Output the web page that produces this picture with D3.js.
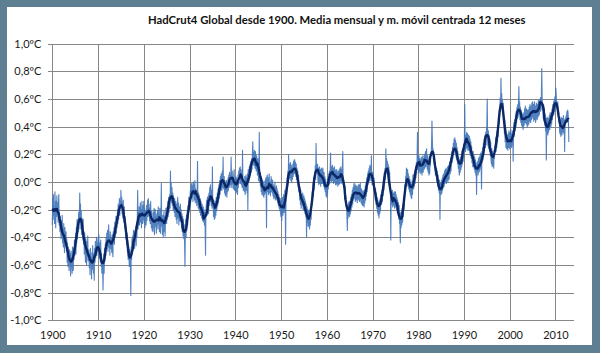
<!DOCTYPE html>
<html><head><meta charset="utf-8">
<script src="https://cdn.jsdelivr.net/npm/d3@7"></script>
<style>html,body{margin:0;padding:0;background:#fff}svg{display:block}</style>
</head><body><svg id="c" width="600" height="353"></svg>
<script>
const chartTitle = "HadCrut4 Global desde 1900. Media mensual y m. móvil centrada 12 meses";
const firstYear = 1900;
const xTickYears = [1900,1910,1920,1930,1940,1950,1960,1970,1980,1990,2000,2010];
const yTickValues = [-1.0,-0.8,-0.6,-0.4,-0.2,0.0,0.2,0.4,0.6,0.8,1.0];
// Monthly anomaly (ºC), one row per year starting 1900, Jan..Dec
const monthly = [
[-.31,-.12,-.24,-.09,-.27,-.18,-.30,-.07,-.21,-.33,-.14,-.25],
[-.10,-.23,-.15,-.29,-.18,-.09,-.31,-.22,-.36,-.25,-.34,-.41],
[-.28,-.39,-.24,-.44,-.35,-.47,-.30,-.42,-.51,-.33,-.45,-.38],
[-.36,-.50,-.41,-.58,-.44,-.61,-.47,-.55,-.64,-.49,-.60,-.52],
[-.68,-.50,-.62,-.55,-.66,-.47,-.59,-.64,-.48,-.56,-.42,-.53],
[-.49,-.37,-.52,-.33,-.44,-.27,-.41,-.30,-.36,-.22,-.34,-.25],
[-.08,-.29,-.16,-.34,-.21,-.38,-.26,-.31,-.42,-.27,-.45,-.36],
[-.52,-.37,-.49,-.58,-.41,-.46,-.60,-.43,-.54,-.39,-.57,-.50],
[-.49,-.62,-.53,-.67,-.48,-.59,-.55,-.70,-.51,-.63,-.46,-.60],
[-.66,-.52,-.71,-.48,-.58,-.43,-.55,-.47,-.40,-.53,-.45,-.50],
[-.41,-.50,-.38,-.55,-.44,-.49,-.58,-.42,-.61,-.52,-.66,-.57],
[-.59,-.78,-.63,-.52,-.66,-.48,-.57,-.45,-.53,-.40,-.49,-.37],
[-.46,-.35,-.50,-.39,-.31,-.47,-.42,-.53,-.36,-.48,-.40,-.45],
[-.51,-.38,-.47,-.54,-.36,-.43,-.33,-.45,-.29,-.40,-.34,-.25],
[-.37,-.25,-.33,-.20,-.30,-.16,-.27,-.21,-.12,-.24,-.14,-.19],
[-.06,-.17,-.11,-.23,-.15,-.26,-.13,-.21,-.29,-.18,-.33,-.25],
[-.29,-.41,-.34,-.45,-.37,-.50,-.42,-.56,-.46,-.52,-.61,-.49],
[-.55,-.63,-.82,-.47,-.56,-.41,-.52,-.39,-.46,-.35,-.44,-.40],
[-.48,-.36,-.43,-.32,-.46,-.29,-.40,-.25,-.06,-.34,-.22,-.31],
[-.18,-.31,-.22,-.15,-.29,-.20,-.33,-.14,-.26,-.30,-.17,-.27],
[-.14,-.29,-.19,-.33,-.21,-.26,-.31,-.17,-.28,-.20,-.13,-.25],
[-.12,-.24,-.16,-.28,-.19,-.30,-.14,-.25,-.33,-.21,-.35,-.27],
[-.36,-.22,-.33,-.19,-.38,-.27,-.20,-.32,-.25,-.37,-.23,-.31],
[-.21,-.34,-.18,-.30,-.24,-.36,-.19,-.29,-.37,-.26,-.01,-.32],
[-.27,-.38,-.24,-.40,-.29,-.21,-.36,-.25,-.39,-.27,-.19,-.30],
[-.30,-.18,-.27,-.14,-.25,-.11,-.22,-.16,-.09,-.19,.08,-.13],
[-.01,-.15,-.04,-.17,-.08,-.20,-.10,-.16,-.22,-.12,-.25,-.19],
[-.14,-.27,-.16,-.30,-.19,-.11,-.26,-.15,-.31,-.18,-.28,-.21],
[-.16,-.29,-.20,-.33,-.23,-.36,-.25,-.39,-.27,-.41,-.31,-.44],
[-.61,-.37,-.27,-.40,-.24,-.35,-.21,-.31,-.17,-.26,-.11,-.20],
[-.13,-.19,-.06,-.15,-.02,-.12,-.01,-.11,-.03,-.14,.00,-.09],
[-.02,-.13,.01,-.15,-.05,-.10,-.12,-.17,-.06,.15,-.14,-.19],
[-.08,-.20,-.10,-.22,-.12,-.24,-.14,-.19,-.26,-.16,-.28,-.21],
[-.18,-.29,-.20,-.31,-.22,-.34,-.53,-.21,-.17,-.13,-.24,-.11],
[-.21,-.10,-.23,-.08,-.17,-.04,-.14,-.02,-.12,-.17,-.06,-.19],
[.11,-.18,-.14,-.25,-.13,-.27,-.16,-.26,-.14,-.24,-.11,-.21],
[-.19,-.08,-.17,-.05,-.15,-.02,-.12,.01,-.09,.04,-.06,.06],
[.05,-.06,.08,-.04,.18,.00,-.05,.04,-.08,.01,-.10,-.02],
[-.09,.01,-.11,-.01,-.07,.03,-.06,.05,-.03,.07,-.04,.05],
[-.02,.18,.06,-.04,.08,-.01,.03,-.05,.05,.09,-.06,-.02],
[-.06,.04,-.08,.03,-.07,.01,-.09,.05,-.04,.08,-.01,.10],
[.07,.11,-.01,.09,-.02,.06,-.04,.23,.02,-.06,-.01,-.05],
[-.07,.04,-.09,.01,.05,-.06,.03,-.08,.06,-.20,.09,.02],
[.00,.11,.03,.13,.05,.15,.07,.17,.09,.20,.29,.13],
[.21,.12,.23,.14,.10,.22,.13,.08,.19,.15,.05,.17],
[.11,.01,.08,.36,.00,.07,-.03,.04,-.07,.02,-.09,-.01],
[.01,-.10,.00,-.11,-.02,-.09,.01,-.08,.03,-.06,-.33,.04],
[.05,-.07,.03,-.09,.01,.06,-.08,.00,-.10,-.01,.04,-.07],
[.02,-.08,.01,-.10,-.02,-.12,-.03,-.11,.00,-.13,-.04,-.12],
[-.03,-.13,-.05,-.15,-.07,-.17,-.09,-.19,-.11,-.21,-.12,-.23],
[-.25,-.13,-.28,-.16,-.11,-.24,-.14,-.09,-.22,-.18,-.06,-.16],
[-.45,-.11,-.02,-.06,.03,-.01,.08,.04,.20,.02,.13,.05],
[.03,.14,.01,.12,.00,.10,.02,.13,.04,.15,.06,.16],
[.16,.06,.14,.04,.13,.02,.10,.00,.08,-.03,.05,-.07],
[-.02,-.13,-.04,-.16,-.06,-.19,-.09,-.15,-.17,-.08,-.20,-.12],
[-.10,-.21,-.12,-.23,-.14,-.25,-.16,-.40,-.18,-.29,-.20,-.32],
[-.21,-.32,-.23,-.34,-.22,-.31,-.19,-.27,-.15,-.17,-.07,-.08],
[-.01,-.10,.03,-.05,.07,.03,.12,.02,.28,.08,.11,.10],
[.13,.00,.10,-.02,.08,.11,-.01,.09,-.03,.07,.10,-.01],
[.09,-.01,.10,.00,-.03,.07,-.05,.04,-.07,.02,-.10,-.06],
[-.11,.00,-.09,.03,-.05,.06,-.02,.08,-.01,.09,.21,.01],
[.11,.00,.09,.12,.01,.10,-.01,.08,.11,.00,.09,-.02],
[.08,-.02,.09,-.01,.07,-.03,.08,.00,-.02,.09,-.01,.10],
[.01,.11,-.01,.09,.00,.10,.22,-.02,.00,-.04,-.03,-.12],
[-.03,-.13,-.10,-.19,-.16,-.25,-.35,-.17,-.26,-.15,-.24,-.14],
[-.25,-.14,-.23,-.11,-.21,-.09,-.18,-.06,-.16,-.04,-.13,-.02],
[-.01,-.12,-.03,-.14,-.02,-.11,-.13,-.03,-.15,-.04,-.12,-.02],
[-.13,-.02,-.14,-.04,-.01,-.12,-.15,-.05,-.16,-.07,-.17,-.06],
[-.17,-.07,-.18,-.06,-.15,-.03,-.13,.00,-.10,.03,-.07,.06],
[-.02,.08,.00,.10,.01,.12,.03,.11,.01,.19,.05,-.02],
[.07,-.02,.06,-.05,.03,-.08,-.04,-.13,-.05,-.16,-.08,-.19],
[-.11,-.22,-.13,-.24,-.15,-.26,-.14,-.23,-.12,-.21,-.09,-.13],
[-.16,-.06,-.14,-.02,-.10,.03,-.06,.07,-.01,.10,.02,.24],
[.13,.17,.06,.15,.04,.13,.02,.11,-.01,.07,-.05,-.02],
[-.42,-.07,-.10,-.16,-.06,-.18,-.08,-.11,-.17,-.07,-.19,-.09],
[-.07,-.18,-.09,-.20,-.11,-.22,-.13,-.24,-.15,-.27,-.17,-.30],
[-.30,-.44,-.22,-.33,-.21,-.31,-.19,-.29,-.16,-.25,-.11,-.20],
[-.13,-.02,-.06,.04,.01,.10,.02,.05,.09,-.03,.06,-.05],
[.04,-.07,.02,-.09,.00,-.11,-.02,-.12,.01,-.09,.05,-.04],
[-.05,.06,-.03,.08,-.01,.11,.03,.14,.06,.17,.36,.09],
[.18,.07,.19,.08,.17,.06,.16,.07,.18,.09,.05,.16],
[.19,.07,.17,.09,.20,.10,.18,.22,.11,.21,.24,.13],
[.09,.19,.07,.16,.05,.14,.06,.15,.12,.21,.19,.28],
[.44,.31,.21,.24,.16,.19,.15,.11,.14,.05,.08,.06],
[.10,.00,.08,-.03,.05,-.06,.02,-.08,.01,-.27,-.01,-.09],
[-.09,.01,-.08,.03,-.06,.05,-.04,.06,-.03,.08,-.01,.09],
[.00,.10,-.01,.09,.01,.11,.00,.09,.12,.02,.13,.15],
[.06,.17,.08,.19,.22,.14,.25,.17,.28,.20,.31,.23],
[.32,.21,.30,.18,.28,.16,.25,.13,.22,.10,.18,.07],
[.05,.16,.07,.18,.09,.20,.11,.22,.13,.24,.15,.27],
[.19,.30,.56,.26,.22,.34,.24,.36,.25,.35,.23,.33],
[.34,.23,.33,.21,.31,.19,.29,.17,.26,.14,.22,.11],
[.22,.11,.20,.09,.18,.07,.16,.05,.14,-.09,.12,.09],
[.15,.05,.17,.07,.18,.08,.19,.10,.21,.12,-.05,.22],
[.14,.25,.16,.28,.19,.31,.23,.34,.25,.36,.27,.38],
[.41,.60,.30,.26,.37,.24,.34,.22,.31,.19,.29,.16],
[.13,.24,.11,.22,.12,.21,.10,.20,.17,.26,.23,.32],
[.22,.33,.25,.37,.29,.41,.33,.45,.42,.53,.51,.61],
[.54,.75,.58,.64,.55,.59,.49,.57,.44,.47,.35,.45],
[.29,.39,.25,.36,.24,.34,.26,.23,.35,.25,.37,.27],
[.24,.36,.26,.38,.28,.25,.35,.27,.37,.15,.39,.43],
[.33,.45,.37,.48,.40,.51,.43,.54,.46,.56,.47,.58],
[.69,.49,.58,.45,.54,.43,.52,.41,.50,.40,.49,.38],
[.40,.50,.41,.53,.43,.55,.45,.42,.53,.44,.40,.52],
[.41,.52,.42,.54,.44,.56,.46,.43,.55,.45,.57,.47],
[.58,.46,.56,.44,.54,.58,.45,.55,.43,.53,.57,.46],
[.45,.56,.47,.59,.48,.58,.49,.60,.51,.61,.52,.62],
[.82,.61,.52,.55,.46,.56,.44,.53,.41,.49,.37,.46],
[.16,.41,.47,.38,.34,.46,.36,.45,.48,.38,.50,.41],
[.40,.50,.42,.53,.45,.56,.48,.58,.49,.60,.51,.62],
[.53,.68,.63,.54,.57,.55,.58,.49,.52,.43,.45,.36],
[.35,.45,.33,.47,.37,.34,.46,.36,.44,.48,.35,.45],
[.22,.39,.46,.44,.48,.47,.51,.45,.52,.50,.44,.29]
];

// flatten to monthly points
const series = [];
monthly.forEach((row, yi) => row.forEach((v, m) => series.push({t: firstYear + yi + m / 12, v})));
// 12-month centred moving average (2x12), truncated at the ends
const ma = series.map((d, i) => {
  let s = 0, w = 0;
  for (let k = -6; k <= 6; k++) {
    const j = i + k;
    if (j < 0 || j >= series.length) continue;
    const wt = (Math.abs(k) === 6) ? 0.5 : 1;
    s += series[j].v * wt; w += wt;
  }
  return {t: d.t, v: s / w};
});

const W = 600, H = 353;
const svg = d3.select("#c");
svg.append("rect").attr("width", W).attr("height", H).attr("fill", "#5e7e91");
svg.append("rect").attr("x", 7).attr("y", 7).attr("width", 585).attr("height", 338).attr("fill", "#ffffff");

const L = 52.3, R = 574, T = 43.7, B = 320.3;
const x = d3.scaleLinear().domain([1900, 2014.05]).range([L, R]);
const y = d3.scaleLinear().domain([-1, 1]).range([B, T]);

const fmtY = d => d3.format(".1f")(d).replace("−", "-").replace(".", ",") + "ºC";

const gy = svg.append("g").attr("transform", `translate(${L},0)`)
  .call(d3.axisLeft(y).tickValues(yTickValues).tickSizeInner(-(R - L)).tickSizeOuter(0).tickPadding(11).tickFormat(fmtY));
gy.select(".domain").remove();
gy.selectAll(".tick line").attr("x1", -4).attr("stroke", "#878787").attr("stroke-width", 1).attr("shape-rendering", "crispEdges");
gy.selectAll(".tick text").attr("font-family", "Lato, 'Open Sans', sans-serif").attr("font-size", 11).attr("fill", "#1a1a1a");

const gx = svg.append("g").attr("transform", `translate(0,${B})`)
  .call(d3.axisBottom(x).tickValues(xTickYears).tickSizeInner(-(B - T)).tickSizeOuter(0).tickPadding(11).tickFormat(d3.format("d")));
gx.select(".domain").remove();
gx.selectAll(".tick line").attr("stroke", "#878787").attr("stroke-width", 1).attr("shape-rendering", "crispEdges");
gx.selectAll(".tick text").attr("font-family", "Lato, 'Open Sans', sans-serif").attr("font-size", 11).attr("fill", "#1a1a1a");

const line = d3.line().x(d => x(d.t)).y(d => y(d.v));
svg.append("path").datum(series).attr("d", line).attr("fill", "none")
  .attr("stroke", "#3f73b8").attr("stroke-width", 1.1).attr("stroke-linejoin", "round").attr("opacity", 0.9);
svg.append("path").datum(ma).attr("d", line).attr("fill", "none")
  .attr("stroke", "#0b2766").attr("stroke-width", 2.4).attr("stroke-linejoin", "round");

const tt = svg.append("text").attr("x", 148).attr("y", 24)
  .attr("font-family", "Lato, 'Open Sans', sans-serif").attr("font-weight", "bold")
  .attr("font-size", 13).attr("fill", "#111").text(chartTitle);
const tw = tt.node().getComputedTextLength();
tt.attr("font-size", 13 * 378 / tw);
</script></body></html>
